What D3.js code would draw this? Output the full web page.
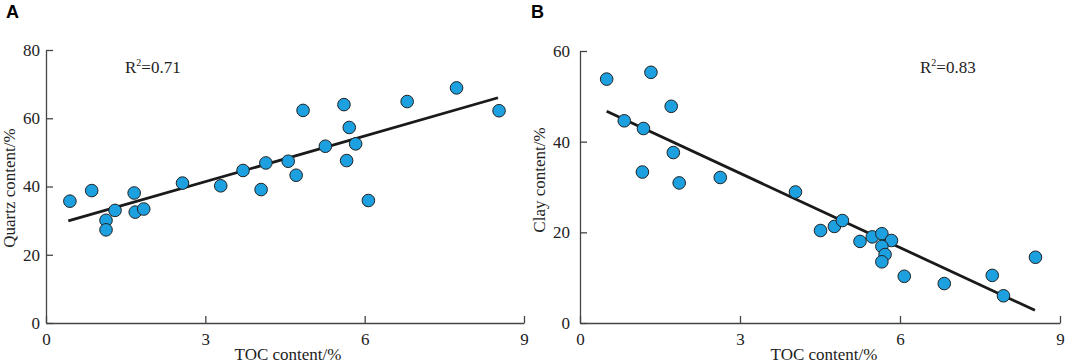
<!DOCTYPE html>
<html>
<head>
<meta charset="utf-8">
<script src="https://cdn.jsdelivr.net/npm/d3@7"></script>
<style>
  body { margin: 0; background: #fff; }
  .tick text { font-family: "Liberation Serif", "Times New Roman", serif; font-size: 17px; fill: #222; }
  .domain, .tick line { stroke: #444; stroke-width: 1.3; }
</style>
</head>
<body>
<div id="chart"></div>
<script>
// panel A: TOC vs quartz
const tocA = [0.45, 0.86, 1.13, 1.13, 1.30, 1.66, 1.68, 1.84, 2.57, 3.29, 3.71, 4.05, 4.14, 4.56, 4.71, 4.84, 5.26, 5.61, 5.71, 5.66, 5.83, 6.07, 6.80, 7.73, 8.53];
const quartz = [35.7, 38.8, 30.1, 27.3, 33.0, 38.1, 32.5, 33.4, 41.0, 40.2, 44.7, 39.1, 46.9, 47.4, 43.3, 62.3, 51.8, 64.0, 57.3, 47.6, 52.5, 35.9, 64.9, 68.9, 62.2];
const fitA = [[0.42, 29.9], [8.51, 66.0]]; // trend line ends
const r2A = "0.71";

// panel B: TOC vs clay
const tocB = [0.50, 1.33, 1.71, 0.83, 1.19, 1.75, 1.17, 1.86, 2.63, 4.04, 4.51, 4.77, 4.92, 5.25, 5.48, 5.66, 5.84, 5.66, 5.72, 5.66, 6.08, 6.83, 7.73, 7.94, 8.54];
const clay = [53.8, 55.3, 47.8, 44.6, 42.9, 37.6, 33.3, 30.9, 32.1, 28.9, 20.4, 21.3, 22.6, 18.0, 19.0, 19.7, 18.2, 16.9, 15.1, 13.5, 10.3, 8.7, 10.5, 6.0, 14.5];
const fitB = [[0.50, 46.7], [8.53, 2.8]];
const r2B = "0.83";

const xTicks = [0, 3, 6, 9];
const yTicksA = [0, 20, 40, 60, 80];
const yTicksB = [0, 20, 40, 60];

const width = 1065, height = 364;

let svg = d3.select("#chart")
    .append("svg")
    .attr("width", width)
    .attr("height", height);

// one scatter panel
function panel(opt) {
    let x = d3.scaleLinear().domain([0, 9]).range([opt.left, opt.right]);
    let y = d3.scaleLinear().domain([0, opt.ymax]).range([323, opt.top]);

    let g = svg.append("g");

    g.append("g")  // x axis, ticks pointing in
        .attr("transform", `translate(0, ${y(0)})`)
        .call(d3.axisBottom(x).tickValues(xTicks).tickSizeInner(-7).tickSizeOuter(0).tickPadding(10));

    g.append("g")  // y axis
        .attr("transform", `translate(${x(0)}, 0)`)
        .call(d3.axisLeft(y).tickValues(opt.yTicks).tickSizeInner(-7).tickSizeOuter(0).tickPadding(opt.ypad));

    g.append("line")  // trend line
        .attr("x1", x(opt.fit[0][0])).attr("y1", y(opt.fit[0][1]))
        .attr("x2", x(opt.fit[1][0])).attr("y2", y(opt.fit[1][1]))
        .attr("stroke", "#1a1a1a")
        .attr("stroke-width", 2.8);

    g.selectAll("circle")
        .data(opt.xs.map((v, i) => [v, opt.ys[i]]))
        .join("circle")
        .attr("cx", d => x(d[0]))
        .attr("cy", d => y(d[1]))
        .attr("r", 6.3)
        .attr("fill", "#1ca0e0")
        .attr("stroke", "#222")
        .attr("stroke-width", 1);

    // R squared label
    let t = g.append("text")
        .attr("x", opt.rx).attr("y", 73)
        .style("font-family", "Liberation Serif, Times New Roman, serif")
        .style("font-size", "17px")
        .attr("fill", "#222");
    t.append("tspan").text("R");
    t.append("tspan").text("2").attr("dy", -7).style("font-size", "10px");
    t.append("tspan").text("=" + opt.r2).attr("dy", 7);

    g.append("text")  // x title
        .attr("x", opt.xtx).attr("y", 360)
        .attr("text-anchor", "middle")
        .style("font-family", "Liberation Serif, Times New Roman, serif")
        .style("font-size", "17px")
        .attr("fill", "#222")
        .text("TOC content/%");

    g.append("text")  // y title
        .attr("transform", `translate(${opt.ytx}, ${opt.yty}) rotate(-90)`)
        .attr("text-anchor", "middle")
        .style("font-family", "Liberation Serif, Times New Roman, serif")
        .style("font-size", "17px")
        .attr("fill", "#222")
        .text(opt.ytitle);

    g.append("text")  // panel letter
        .attr("x", opt.lx).attr("y", 18)
        .style("font-family", "Liberation Sans, Arial, sans-serif")
        .style("font-size", "18px")
        .style("font-weight", "bold")
        .text(opt.letter);
}

panel({left: 46, right: 524, top: 50, ymax: 80, yTicks: yTicksA, ypad: 6,
       xs: tocA, ys: quartz, fit: fitA, r2: r2A, rx: 125,
       xtx: 288, ytx: 15, yty: 188, ytitle: "Quartz content/%", lx: 6, letter: "A"});

panel({left: 580, right: 1060, top: 51, ymax: 60, yTicks: yTicksB, ypad: 10,
       xs: tocB, ys: clay, fit: fitB, r2: r2B, rx: 920,
       xtx: 824, ytx: 545, yty: 180, ytitle: "Clay content/%", lx: 531, letter: "B"});
</script>
</body>
</html>
